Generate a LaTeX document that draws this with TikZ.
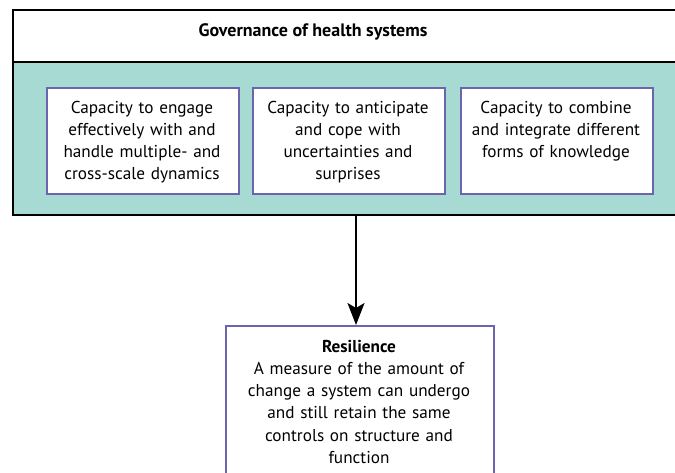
\documentclass[tikz,border=0pt]{standalone}
\usepackage{fontspec}
\setmainfont{PT Sans}
\usetikzlibrary{arrows.meta}
\definecolor{teal1}{HTML}{A7DAD3}
\definecolor{purp}{HTML}{6A65AE}
\tikzset{
  frameline/.style={draw=black,line width=2pt},
  capbox/.style={draw=purp,fill=white,line width=2pt,rectangle,inner sep=0pt,anchor=north west},
  captext/.style={align=center,text width=190pt,inner sep=0pt,anchor=base,font=\fontsize{17.2}{22.3}\selectfont},
  arr/.style={line width=2pt,-{Stealth[length=22pt,width=17pt,inset=5pt]}}
}
\begin{document}
\begin{tikzpicture}[x=1pt,y=-1pt]
\useasboundingbox (0,0) rectangle (675,472);
% outer frame
\fill[teal1] (13,62) rectangle (690,215);
\draw[frameline] (690,10) -- (13,10) -- (13,215) -- (690,215);
\draw[frameline] (13,62) -- (690,62);
\node[anchor=base,inner sep=0pt,font=\fontsize{18}{20}\selectfont\bfseries] (title) at (313,36) {Governance of health systems};
\coordinate (fbot) at (356,215);
% capacity boxes
\node[capbox,minimum width=192pt,minimum height=106pt] (b1) at (46,87) {};
\node[capbox,minimum width=192pt,minimum height=106pt] (b2) at (252,87) {};
\node[capbox,minimum width=192pt,minimum height=106pt] (b3) at (460,87) {};
\node[captext] (t1) at (142,113) {Capacity to engage\\effectively with and\\handle multiple- and\\cross-scale dynamics};
\node[captext] (t2) at (348,113) {Capacity to anticipate\\and cope with\\uncertainties and\\surprises};
\node[captext] (t3) at (556,113) {Capacity to combine\\and integrate different\\forms of knowledge};
% resilience box
\node[capbox,minimum width=268pt,minimum height=170pt] (res) at (225,325) {};
\node[captext,text width=264pt] (rt) at (359,352) {\textbf{Resilience}\\A measure of the amount of\\change a system can undergo\\and still retain the same\\controls on structure and\\function};
\draw[arr] (fbot) -- (res.north -| fbot);
\end{tikzpicture}
\end{document}
